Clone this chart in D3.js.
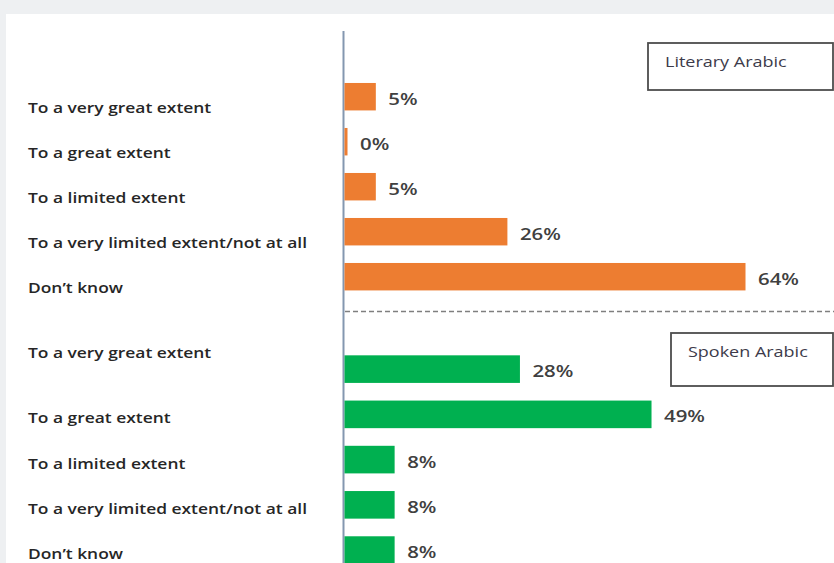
<!DOCTYPE html>
<html>
<head>
<meta charset="utf-8">
<script src="https://cdn.jsdelivr.net/npm/d3@7"></script>
<style>
  body { margin: 0; background: #eef0f2; }
  svg { display: block; }
</style>
</head>
<body>
<div id="chart"></div>
<script>
// categories (same for both panels)
const categories = [
  "To a very great extent",
  "To a great extent",
  "To a limited extent",
  "To a very limited extent/not at all",
  "Don\u2019t know"
];

// percentages
const literaryValues = [5, 0, 5, 26, 64];
const spokenValues = [28, 49, 8, 8, 8];

const groupNames = ["Literary Arabic", "Spoken Arabic"];
const groupColors = ["#ed7d31", "#00b050"];

const width = 834;
const height = 563;
const font = "'Open Sans', Lato, sans-serif";
// the source picture is stretched sideways, text too
const stretch = 1.2;

const svg = d3.select("#chart")
  .append("svg")
  .attr("width", width)
  .attr("height", height);

// page panel
svg.append("rect")
  .attr("width", width).attr("height", height)
  .attr("fill", "#eef0f2");
svg.append("rect")
  .attr("x", 6).attr("y", 14)
  .attr("width", width - 6).attr("height", height - 14)
  .attr("fill", "#ffffff");

const x = d3.scaleLinear()
  .domain([0, 64])
  .range([344, 745]);

// one band scale per panel
const yLit = d3.scaleBand()
  .domain(categories)
  .range([74.2, 299.2])
  .paddingInner(0.39)
  .paddingOuter(0.195);

const ySpo = d3.scaleBand()
  .domain(categories)
  .range([346.5, 572.7])
  .paddingInner(0.39)
  .paddingOuter(0.195);

const groups = [
  { name: groupNames[0], values: literaryValues, y: yLit, color: groupColors[0], labelShift: 11 },
  { name: groupNames[1], values: spokenValues, y: ySpo, color: groupColors[1], labelShift: 4 }
];

// vertical axis line
svg.append("line")
  .attr("x1", x(0) - 0.5).attr("x2", x(0) - 0.5)
  .attr("y1", 31).attr("y2", height)
  .attr("stroke", "#8497b0")
  .attr("stroke-width", 2);

groups.forEach((g, gi) => {
  const rows = categories.map((c, i) => ({ cat: c, value: g.values[i], i: i }));
  const gg = svg.append("g").attr("class", "group");

  // category labels on the left
  gg.selectAll("text.cat")
    .data(rows)
    .join("text")
    .attr("class", "cat")
    .attr("transform", d => {
      let yy = g.y(d.cat) + g.y.bandwidth() / 2 + g.labelShift;
      // in the source the first spoken label sits higher than its bar
      if (gi === 1 && d.i === 0) yy -= 20;
      return `translate(28,${yy}) scale(${stretch},1)`;
    })
    .attr("dy", "0.35em")
    .attr("font-family", font)
    .attr("font-size", 14.5)
    .attr("font-weight", 600)
    .attr("fill", "#262626")
    .text(d => d.cat);

  gg.selectAll("rect.bar")
    .data(rows)
    .join("rect")
    .attr("class", "bar")
    .attr("x", x(0) + 0.5)
    .attr("y", d => g.y(d.cat))
    .attr("width", d => Math.max(x(d.value) - x(0), 3))
    .attr("height", g.y.bandwidth())
    .attr("fill", g.color);

  gg.selectAll("text.val")
    .data(rows)
    .join("text")
    .attr("class", "val")
    .attr("transform", d => {
      const xx = Math.max(x(d.value), x(0) + 3) + 13;
      const yy = g.y(d.cat) + g.y.bandwidth() / 2 + 2;
      return `translate(${xx},${yy}) scale(${stretch},1)`;
    })
    .attr("dy", "0.35em")
    .attr("font-family", font)
    .attr("font-size", 17)
    .attr("font-weight", 600)
    .attr("fill", "#404040")
    .text(d => d.value + "%");
});

// dashed separator between the panels
svg.append("line")
  .attr("x1", x(0) + 1).attr("x2", width)
  .attr("y1", 311.5).attr("y2", 311.5)
  .attr("stroke", "#7f7f7f")
  .attr("stroke-width", 1.5)
  .attr("stroke-dasharray", "5,3");

// legend boxes
const legendBoxes = [
  { text: groupNames[0], x: 648, y: 43, w: 185, h: 47 },
  { text: groupNames[1], x: 671, y: 333, w: 162, h: 53 }
];

const lg = svg.append("g").attr("class", "legend")
  .selectAll("g")
  .data(legendBoxes)
  .join("g");

lg.append("rect")
  .attr("x", d => d.x).attr("y", d => d.y)
  .attr("width", d => d.w).attr("height", d => d.h)
  .attr("fill", "#ffffff")
  .attr("stroke", "#4d4d4d")
  .attr("stroke-width", 1.8);

lg.append("text")
  .attr("transform", d => `translate(${d.x + 17},${d.y + 19}) scale(${stretch},1)`)
  .attr("dy", "0.35em")
  .attr("font-family", font)
  .attr("font-size", 15)
  .attr("font-weight", 500)
  .attr("fill", "#3d3b4a")
  .text(d => d.text);
</script>
</body>
</html>
